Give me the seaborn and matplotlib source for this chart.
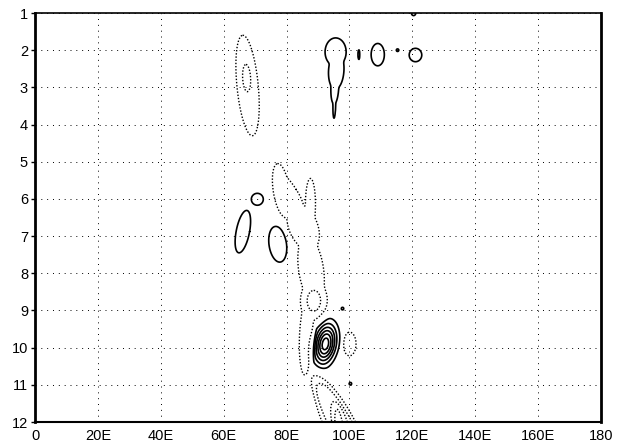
import numpy as np
import matplotlib
matplotlib.use("Agg")
import matplotlib.pyplot as plt
import seaborn as sns

sns.set_theme(style="white")
plt.rcParams['font.family'] = ['Liberation Sans', 'DejaVu Sans']

# Axis ticks
x_ticks = [0, 20, 40, 60, 80, 100, 120, 140, 160, 180]
x_labels = ['0', '20E', '40E', '60E', '80E', '100E', '120E', '140E', '160E', '180']
y_ticks = [1, 2, 3, 4, 5, 6, 7, 8, 9, 10, 11, 12]

# Positive centres (solid contours): centre, peak, reference level,
# half-widths at the reference level, tilt (lon per row), edge sharpness
pos_x   = [95.6, 95.8, 95.35, 95.2, 103.0, 109.0, 115.3, 121.0, 120.4, 70.7, 66.1, 77.2, 92.35, 97.8, 100.3]
pos_y   = [2.05, 2.55, 3.00, 3.45, 2.12, 2.12, 2.00, 2.13, 1.00, 6.01, 6.88, 7.22, 9.90, 8.95, 10.97]
pos_amp = [1.5, 1.5, 1.5, 1.5, 1.5, 1.5, 1.5, 1.5, 1.5, 1.5, 1.5, 1.5, 6.6, 1.5, 1.5]
pos_ref = [1, 1, 1, 1, 1, 1, 1, 1, 1, 1, 1, 1, 1, 1, 1]
pos_hx  = [3.35, 2.45, 1.25, 0.45, 0.3, 2.1, 0.4, 2.0, 0.7, 1.9, 2.15, 2.8, 4.45, 0.4, 0.4]
pos_hy  = [0.38, 0.50, 0.45, 0.38, 0.13, 0.30, 0.035, 0.18, 0.07, 0.16, 0.57, 0.48, 0.69, 0.035, 0.035]
pos_k   = [0.0, -0.6, -0.5, -0.3, 0.0, 0.0, 0.0, 0.0, 0.0, 0.0, -2.1, 1.3, -1.6, 0.0, 0.0]
pos_q   = [3, 3, 3, 3, 3, 3, 3, 3, 3, 3, 3, 3, 1, 3, 3]

# Negative centres (dotted contours)
neg_x   = [67.6, 67.3, 78.3, 81.5, 80.5, 87.6, 85.3, 87.8, 88.7, 88.7, 86.4, 100.0, 97.66, 98.05, 97.45, 96.85]
neg_y   = [2.95, 2.75, 5.75, 5.75, 6.20, 6.15, 6.75, 7.90, 8.75, 8.74, 9.70, 9.90, 12.2, 12.2, 12.2, 12.2]
neg_amp = [1.5, 2.5, 1.5, 1.5, 1.5, 1.5, 1.5, 1.5, 1.5, 2.5, 1.5, 1.5, 1.5, 2.5, 3.5, 4.5]
neg_ref = [1, 2, 1, 1, 1, 1, 1, 1, 1, 2, 1, 1, 1, 2, 3, 4]
neg_hx  = [3.4, 1.25, 2.6, 1.6, 3.0, 1.6, 4.8, 4.0, 4.3, 2.1, 2.3, 2.1, 5.36, 4.0, 2.45, 1.15]
neg_hy  = [1.35, 0.36, 0.70, 0.45, 0.35, 0.70, 0.62, 0.90, 0.55, 0.27, 1.05, 0.32, 1.35, 1.26, 0.72, 0.50]
neg_k   = [1.1, 0.6, 1.5, 7.5, 2.0, 0.0, 3.0, 1.5, 0.0, 0.0, -0.5, 0.0, 5.3, 6.0, 3.0, 1.5]
neg_q   = [3, 4, 3, 3, 3, 3, 3, 3, 3, 4, 3, 3, 3, 4, 4, 4]

pos_levels = [1, 2, 3, 4, 5, 6]
neg_levels = [-5, -4, -3, -2, -1]

lon = np.linspace(0, 180, 1201)
row = np.linspace(1, 12, 1101)
X, Y = np.meshgrid(lon, row)


def field(xs, ys, amps, refs, hxs, hys, ks, qs, m=6.0):
    acc = np.zeros_like(X)
    for x0, y0, a, L, hx, hy, k, q in zip(xs, ys, amps, refs, hxs, hys, ks, qs):
        r_ref = (2.0 * np.log(a / L)) ** (1.0 / (2.0 * q))
        sx, sy = hx / r_ref, hy / r_ref
        r2 = ((X - x0 - k * (Y - y0)) / sx) ** 2 + ((Y - y0) / sy) ** 2
        g = a * np.exp(-0.5 * r2 ** q)
        acc += g ** m
    return acc ** (1.0 / m)


P = field(pos_x, pos_y, pos_amp, pos_ref, pos_hx, pos_hy, pos_k, pos_q)
N = field(neg_x, neg_y, neg_amp, neg_ref, neg_hx, neg_hy, neg_k, neg_q)
Z = P - N

fig = plt.figure(figsize=(6.23, 4.47), dpi=100)
ax = fig.add_axes([35 / 623, 1 - 422 / 447, 566 / 623, 409 / 447])

ax.contour(X, Y, Z, levels=pos_levels, colors='black', linewidths=1.2, linestyles='solid')
ax.contour(X, Y, Z, levels=neg_levels, colors='black', linewidths=1.0,
           linestyles=[(0, (1, 1.3))])

ax.set_xlim(0, 180)
ax.set_ylim(12, 1)
ax.set_xticks(x_ticks)
ax.set_xticklabels(x_labels)
ax.set_yticks(y_ticks)
ax.grid(True, color='black', linestyle=(0, (1, 5)), linewidth=0.7)
ax.tick_params(axis='both', labelsize=10.5, colors='black', length=3, width=1,
               left=True, bottom=False, pad=2)
for side, lw in [('left', 2.0), ('right', 2.0), ('top', 1.2), ('bottom', 1.5)]:
    ax.spines[side].set_color('black')
    ax.spines[side].set_linewidth(lw)

fig.savefig('out.png', dpi=100)
